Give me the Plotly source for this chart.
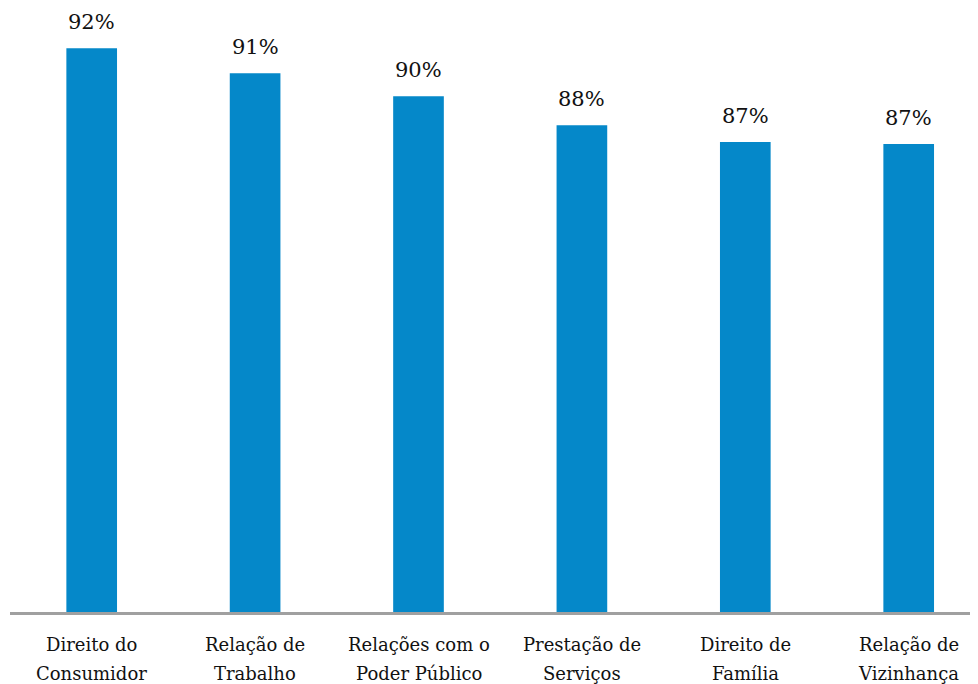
import plotly.graph_objects as go

categories = ["Direito do<br>Consumidor", "Relação de<br>Trabalho", "Relações com o<br>Poder Público",
              "Prestação de<br>Serviços", "Direito de<br>Família", "Relação de<br>Vizinhança"]
values = [92.1, 90.9, 89.8, 88.4, 87.6, 87.5]
labels = ["92%", "91%", "90%", "88%", "87%", "87%"]

FONT = "DejaVu Serif, serif"
BAR_COLOR = "#0588C9"
TEXT_COLOR = "#111111"

fig = go.Figure()
fig.add_trace(go.Bar(x=categories, y=values, marker=dict(color=BAR_COLOR, line=dict(width=0)),
                     hoverinfo="skip"))

for c, v, t in zip(categories, values, labels):
    fig.add_annotation(x=c, y=v, text=t, showarrow=False, yanchor="bottom", yshift=12,
                       font=dict(family=FONT, size=21, color=TEXT_COLOR))

# category labels, one annotation per line for Excel-like line spacing
for c in categories:
    for i, line in enumerate(c.split("<br>")):
        fig.add_annotation(x=c, y=0, yref="paper", text=line, showarrow=False, yanchor="top",
                           yshift=-20 - 28.5 * i,
                           font=dict(family=FONT, size=18, color=TEXT_COLOR))

# page body has an 8px margin; compensate so the plot sits where the reference does
W, Hfig = 986, 676
top, bottom = 2, 72
H = Hfig - top - bottom
k = 20.8
ymin = 65
slot = 163.4
fig.update_layout(
    width=W, height=Hfig,
    margin=dict(l=2, r=0, t=top, b=bottom, autoexpand=False),
    paper_bgcolor="white", plot_bgcolor="white",
    bargap=0.69, showlegend=False,
    xaxis=dict(range=[-0.5, -0.5 + (W - 2) / slot], showline=True, linecolor="#A0A0A0", linewidth=2.5,
               ticks="", showgrid=False, zeroline=False, automargin=False, showticklabels=False),
    yaxis=dict(range=[ymin, ymin + H / k], visible=False, showgrid=False, zeroline=False, automargin=False),
)
fig.write_html("out.html")
